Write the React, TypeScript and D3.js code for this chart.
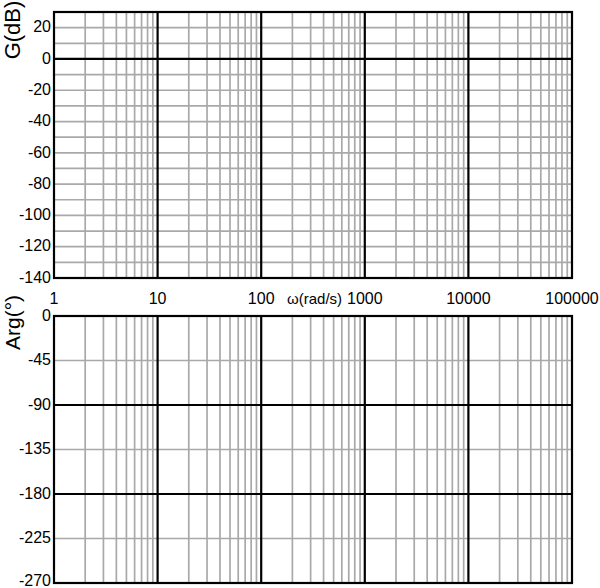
import React from "react";
import * as d3 from "d3";

const decadeValues = [1, 10, 100, 1000, 10000, 100000];
const decadeLabels = ["1", "10", "100", "1000", "10000", "100000"];
const minorMultipliers = [2, 3, 4, 5, 6, 7, 8, 9];

const gainDomain = [-140, 30];
const gainTickValues = [20, 0, -20, -40, -60, -80, -100, -120, -140];
const gainGridValues = [20, 10, 0, -10, -20, -30, -40, -50, -60, -70, -80, -90, -100, -110, -120, -130];
const gainMajorValues = [0];

const phaseDomain = [-270, 0];
const phaseTickValues = [0, -45, -90, -135, -180, -225, -270];
const phaseGridValues = [-45, -90, -135, -180, -225];
const phaseMajorValues = [-90, -180];

const gainTitle = "G(dB)";
const phaseTitle = "Arg(°)";
const freqTitle = "ω(rad/s)";

const W = 600;
const H = 588;
const FONT = "'Liberation Sans', Arial, sans-serif";
const GRAY = "#a9a9a9";

export default function App() {
  const x = d3.scaleLog().domain([1, 100000]).range([54, 572]);
  const yG = d3.scaleLinear().domain(gainDomain).range([278, 12]);
  const yP = d3.scaleLinear().domain(phaseDomain).range([583, 316]);

  const minorX: number[] = [];
  decadeValues.slice(0, -1).forEach((d) => minorMultipliers.forEach((m) => minorX.push(d * m)));
  const innerDecades = decadeValues.slice(1, -1);

  const panel = (y: d3.ScaleLinear<number, number>, grid: number[], major: number[], key: string) => {
    const [y0, y1] = [y.range()[1], y.range()[0]];
    return (
      <g key={key}>
        {minorX.map((v) => (
          <line key={"vx" + v} x1={x(v)} x2={x(v)} y1={y0} y2={y1} stroke={GRAY} strokeWidth={1.7} />
        ))}
        {grid.filter((v) => !major.includes(v)).map((v) => (
          <line key={"hy" + v} x1={x(1)} x2={x(100000)} y1={y(v)} y2={y(v)} stroke={GRAY} strokeWidth={1.7} />
        ))}
        {innerDecades.map((v) => (
          <line key={"dx" + v} x1={x(v)} x2={x(v)} y1={y0} y2={y1} stroke="#000" strokeWidth={2.2} />
        ))}
        {major.map((v) => (
          <line key={"my" + v} x1={x(1)} x2={x(100000)} y1={y(v)} y2={y(v)} stroke="#000" strokeWidth={2.2} />
        ))}
        <rect x={x(1)} y={y0} width={x(100000) - x(1)} height={y1 - y0} fill="none" stroke="#000" strokeWidth={2.2} />
      </g>
    );
  };

  const baseline = (py: number) => Math.min(py + 4.7, 586);

  return (
    <svg width={W} height={H} style={{ position: "absolute", left: 0, top: 0, background: "#fff" }} fontFamily={FONT}>
      <rect width={W} height={H} fill="#fff" />
      {panel(yG, gainGridValues, gainMajorValues, "gain")}
      {panel(yP, phaseGridValues, phaseMajorValues, "phase")}
      {gainTickValues.map((v) => (
        <text key={"gt" + v} x={51} y={baseline(yG(v))} textAnchor="end" fontSize={16}>
          {v}
        </text>
      ))}
      {phaseTickValues.map((v) => (
        <text key={"pt" + v} x={51} y={baseline(yP(v))} textAnchor="end" fontSize={16}>
          {v}
        </text>
      ))}
      {decadeValues.map((v, i) => (
        <text key={"xt" + v} x={x(v)} y={304} textAnchor="middle" fontSize={16}>
          {decadeLabels[i]}
        </text>
      ))}
      <text x={287} y={304} fontSize={15}>{freqTitle}</text>
      <text transform={`translate(19.5,30) rotate(-90)`} textAnchor="middle" fontSize={22}>
        {gainTitle}
      </text>
      <text transform={`translate(19.5,322.5) rotate(-90)`} textAnchor="middle" fontSize={21}>
        {phaseTitle}
      </text>
    </svg>
  );
}
